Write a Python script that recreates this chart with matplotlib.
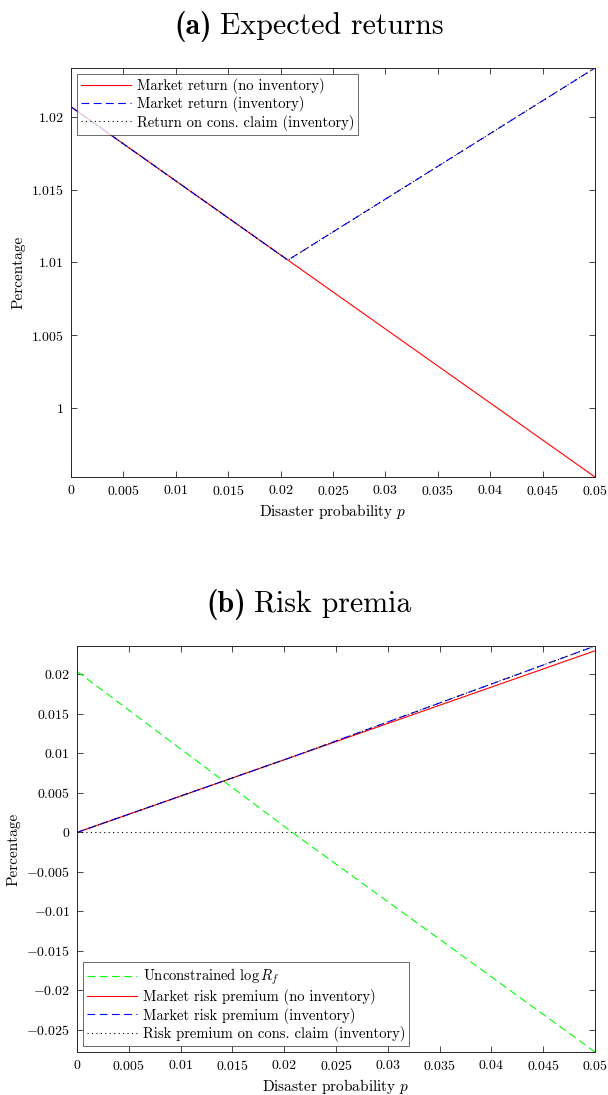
import numpy as np
import matplotlib
matplotlib.use("Agg")
import matplotlib.pyplot as plt
from matplotlib.ticker import FuncFormatter
from matplotlib.offsetbox import TextArea, HPacker, AnchoredOffsetbox

plt.rcParams['font.family'] = 'serif'
plt.rcParams['font.serif'] = ['cmr10']
plt.rcParams['mathtext.fontset'] = 'cm'
plt.rcParams['axes.formatter.use_mathtext'] = True

# panel (a): expected returns
p_a = [0.0, 0.0207, 0.05]
ret_noinv = [1.0207, 1.01016, 0.99525]
ret_inv = [1.0207, 1.01016, 1.02337]
ret_cons = [1.0207, 1.01016, 1.02337]

# panel (b): risk premia
p_b = [0.0, 0.021, 0.05]
log_rf = [0.0204, -0.00021, -0.0278]
rp_noinv = [0.0, 0.00966, 0.0230]
rp_inv = [0.0, 0.00966, 0.0236]
rp_cons = [0.0, 0.00966, 0.0236]
zero_line = [0.0, 0.0, 0.0]

xticks = np.arange(0, 0.0501, 0.005)
yticks_a = [1.0, 1.005, 1.01, 1.015, 1.02]
yticks_b = [-0.025, -0.02, -0.015, -0.01, -0.005, 0, 0.005, 0.01, 0.015, 0.02]

edge = '#262626'
fmt = FuncFormatter(lambda v, pos: '$%s$' % ('%g' % round(v, 6)))
dash = (0, (7, 4))
dot = (0, (1, 3))


def style_axes(ax, yticks):
    ax.set_xlim(0, 0.05)
    ax.set_xticks(xticks)
    ax.set_yticks(yticks)
    ax.xaxis.set_major_formatter(fmt)
    ax.yaxis.set_major_formatter(fmt)
    ax.tick_params(direction='in', top=True, right=True, length=4,
                   width=0.6, color=edge, labelsize=10, pad=5)
    for s in ax.spines.values():
        s.set_color(edge)
        s.set_linewidth(0.7)
    ax.set_xlabel('Disaster probability $p$', fontsize=11, labelpad=3)
    ax.set_ylabel('Percentage', fontsize=11, labelpad=4)


def panel_title(ax, tag, text, y):
    bold = TextArea(tag, textprops=dict(family='cmb10', size=21.5))
    plain = TextArea(text, textprops=dict(family='cmr10', size=21.5))
    box = HPacker(children=[bold, plain], align='baseline', pad=0, sep=6)
    anc = AnchoredOffsetbox(loc='center', child=box, frameon=False,
                            bbox_to_anchor=(0.508, y), bbox_transform=fig.transFigure,
                            borderpad=0, pad=0)
    fig.add_artist(anc)


def add_legend(ax, loc):
    leg = ax.legend(loc=loc, fontsize=10.5, frameon=True, fancybox=False,
                    edgecolor=edge, borderaxespad=0.4, handlelength=3.4,
                    labelspacing=0.15, borderpad=0.3, handletextpad=0.4)
    leg.get_frame().set_linewidth(0.6)


fig = plt.figure(figsize=(6.08, 10.95), dpi=100)

ax1 = fig.add_axes([0.1168, 0.5644, 0.8618, 0.3735])
ax1.plot(p_a, ret_noinv, color='red', lw=0.8, label='Market return (no inventory)')
ax1.plot(p_a, ret_inv, color='blue', lw=0.8, ls=dash, label='Market return (inventory)')
ax1.plot(p_a, ret_cons, color='black', lw=0.8, ls=dot, label='Return on cons. claim (inventory)')
ax1.set_ylim(min(ret_noinv), max(ret_inv))
style_axes(ax1, yticks_a)
panel_title(ax1, '(a)', 'Expected returns', 1 - 26 / 1095)
add_legend(ax1, 'upper left')

ax2 = fig.add_axes([0.1266, 0.0393, 0.852, 0.3707])
ax2.plot(p_b, log_rf, color='#00ff00', lw=0.8, ls=dash, label=r'Unconstrained $\log R_f$')
ax2.plot(p_b, rp_noinv, color='red', lw=0.8, label='Market risk premium (no inventory)')
ax2.plot(p_b, rp_inv, color='blue', lw=0.8, ls=dash, label='Market risk premium (inventory)')
ax2.plot(p_b, zero_line, color='black', lw=0.8, ls=dot, label='Risk premium on cons. claim (inventory)')
ax2.plot(p_b, rp_cons, color='black', lw=0.8, ls=dot)
ax2.set_ylim(min(log_rf), max(rp_inv))
style_axes(ax2, yticks_b)
panel_title(ax2, '(b)', 'Risk premia', 1 - 605 / 1095)
add_legend(ax2, 'lower left')

fig.savefig('out.png', dpi=100)
